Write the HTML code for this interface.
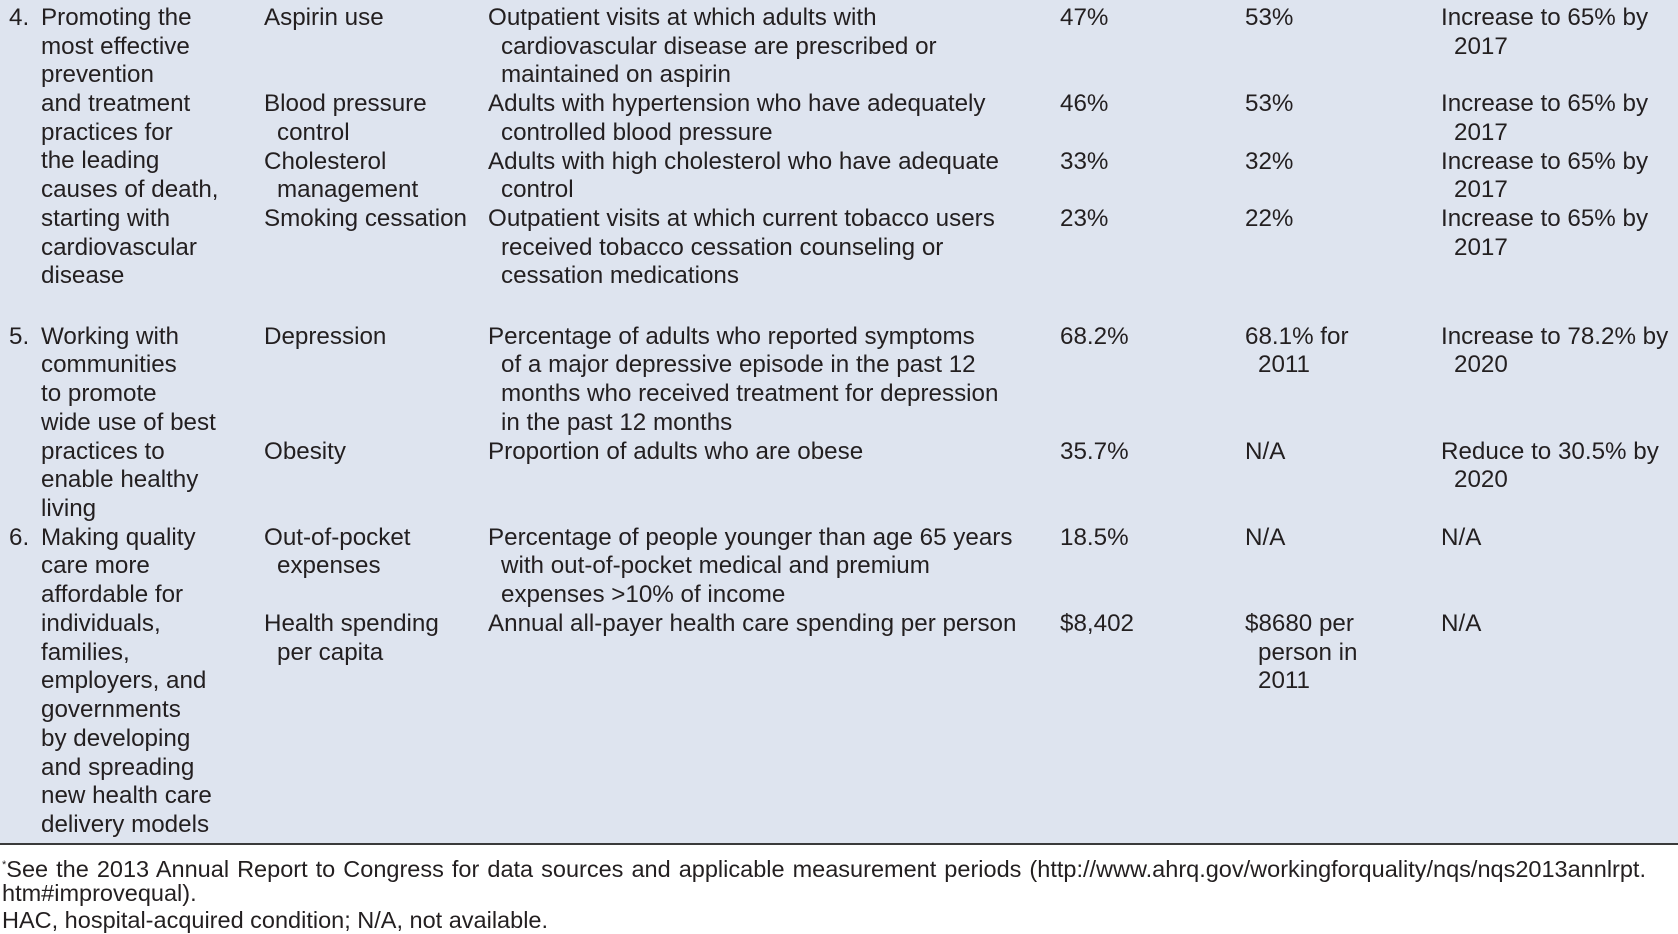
<!DOCTYPE html>
<html><head><meta charset="utf-8"><style>
html,body{margin:0;padding:0}
body{width:1678px;height:934px;position:relative;background:#fff;font-family:"Liberation Sans",Arial,sans-serif;color:#231f20;overflow:hidden}
.bg{position:absolute;left:0;top:0;width:1678px;height:844px;background:#dee4ef}
.rule{position:absolute;left:0;top:843px;width:1678px;height:2px;background:#3a3a3a}
.c{position:absolute;font-size:24.2px;line-height:28.73px;white-space:nowrap;letter-spacing:0px}
.h{padding-left:13px;text-indent:-13px}
.f{position:absolute;left:2px;font-size:23.5px;line-height:27px;white-space:nowrap}
</style></head><body>
<div class="bg"></div>
<!-- Section 4 -->
<div class="c" style="left:9px;top:3.8px">4.</div>
<div class="c" style="left:41px;top:3.8px">Promoting the<br>most effective<br>prevention<br>and treatment<br>practices for<br>the leading<br>causes of death,<br>starting with<br>cardiovascular<br>disease</div>
<div class="c h" style="left:264px;top:3.8px">Aspirin use</div>
<div class="c h" style="left:264px;top:90px">Blood pressure<br>control</div>
<div class="c h" style="left:264px;top:147.5px">Cholesterol<br>management</div>
<div class="c h" style="left:264px;top:205px">Smoking cessation</div>
<div class="c h" style="left:488px;top:3.8px">Outpatient visits at which adults with<br>cardiovascular disease are prescribed or<br>maintained on aspirin</div>
<div class="c h" style="left:488px;top:90px">Adults with hypertension who have adequately<br>controlled blood pressure</div>
<div class="c h" style="left:488px;top:147.5px">Adults with high cholesterol who have adequate<br>control</div>
<div class="c h" style="left:488px;top:205px">Outpatient visits at which current tobacco users<br>received tobacco cessation counseling or<br>cessation medications</div>
<div class="c" style="left:1060px;top:3.8px">47%</div>
<div class="c" style="left:1060px;top:90px">46%</div>
<div class="c" style="left:1060px;top:147.5px">33%</div>
<div class="c" style="left:1060px;top:205px">23%</div>
<div class="c" style="left:1245px;top:3.8px">53%</div>
<div class="c" style="left:1245px;top:90px">53%</div>
<div class="c" style="left:1245px;top:147.5px">32%</div>
<div class="c" style="left:1245px;top:205px">22%</div>
<div class="c h" style="left:1441px;top:3.8px">Increase to 65% by<br>2017</div>
<div class="c h" style="left:1441px;top:90px">Increase to 65% by<br>2017</div>
<div class="c h" style="left:1441px;top:147.5px">Increase to 65% by<br>2017</div>
<div class="c h" style="left:1441px;top:205px">Increase to 65% by<br>2017</div>
<!-- Section 5 -->
<div class="c" style="left:9px;top:322.6px">5.</div>
<div class="c" style="left:41px;top:322.6px">Working with<br>communities<br>to promote<br>wide use of best<br>practices to<br>enable healthy<br>living</div>
<div class="c h" style="left:264px;top:322.6px">Depression</div>
<div class="c h" style="left:264px;top:437.5px">Obesity</div>
<div class="c h" style="left:488px;top:322.6px">Percentage of adults who reported symptoms<br>of a major depressive episode in the past 12<br>months who received treatment for depression<br>in the past 12 months</div>
<div class="c h" style="left:488px;top:437.5px">Proportion of adults who are obese</div>
<div class="c" style="left:1060px;top:322.6px">68.2%</div>
<div class="c" style="left:1060px;top:437.5px">35.7%</div>
<div class="c h" style="left:1245px;top:322.6px">68.1% for<br>2011</div>
<div class="c" style="left:1245px;top:437.5px">N/A</div>
<div class="c h" style="left:1441px;top:322.6px">Increase to 78.2% by<br>2020</div>
<div class="c h" style="left:1441px;top:437.5px">Reduce to 30.5% by<br>2020</div>
<!-- Section 6 -->
<div class="c" style="left:9px;top:523.7px">6.</div>
<div class="c" style="left:41px;top:523.7px">Making quality<br>care more<br>affordable for<br>individuals,<br>families,<br>employers, and<br>governments<br>by developing<br>and spreading<br>new health care<br>delivery models</div>
<div class="c h" style="left:264px;top:523.7px">Out-of-pocket<br>expenses</div>
<div class="c h" style="left:264px;top:609.9px">Health spending<br>per capita</div>
<div class="c h" style="left:488px;top:523.7px">Percentage of people younger than age 65 years<br>with out-of-pocket medical and premium<br>expenses &gt;10% of income</div>
<div class="c h" style="left:488px;top:609.9px">Annual all-payer health care spending per person</div>
<div class="c" style="left:1060px;top:523.7px">18.5%</div>
<div class="c" style="left:1060px;top:609.9px">$8,402</div>
<div class="c" style="left:1245px;top:523.7px">N/A</div>
<div class="c h" style="left:1245px;top:609.9px">$8680 per<br>person in<br>2011</div>
<div class="c" style="left:1441px;top:523.7px">N/A</div>
<div class="c" style="left:1441px;top:609.9px">N/A</div>
<div class="rule"></div>
<div class="f" style="top:852px;width:1644px;text-align:justify;text-align-last:justify;white-space:normal"><sup style="font-size:11px;vertical-align:9px">*</sup>See the 2013 Annual Report to Congress for data sources and applicable measurement periods (http://www.ahrq.gov/workingforquality/nqs/nqs2013annlrpt.</div>
<div class="f" style="top:879.5px">htm#improvequal).</div>
<div class="f" style="top:906.5px">HAC, hospital-acquired condition; N/A, not available.</div>
</body></html>
